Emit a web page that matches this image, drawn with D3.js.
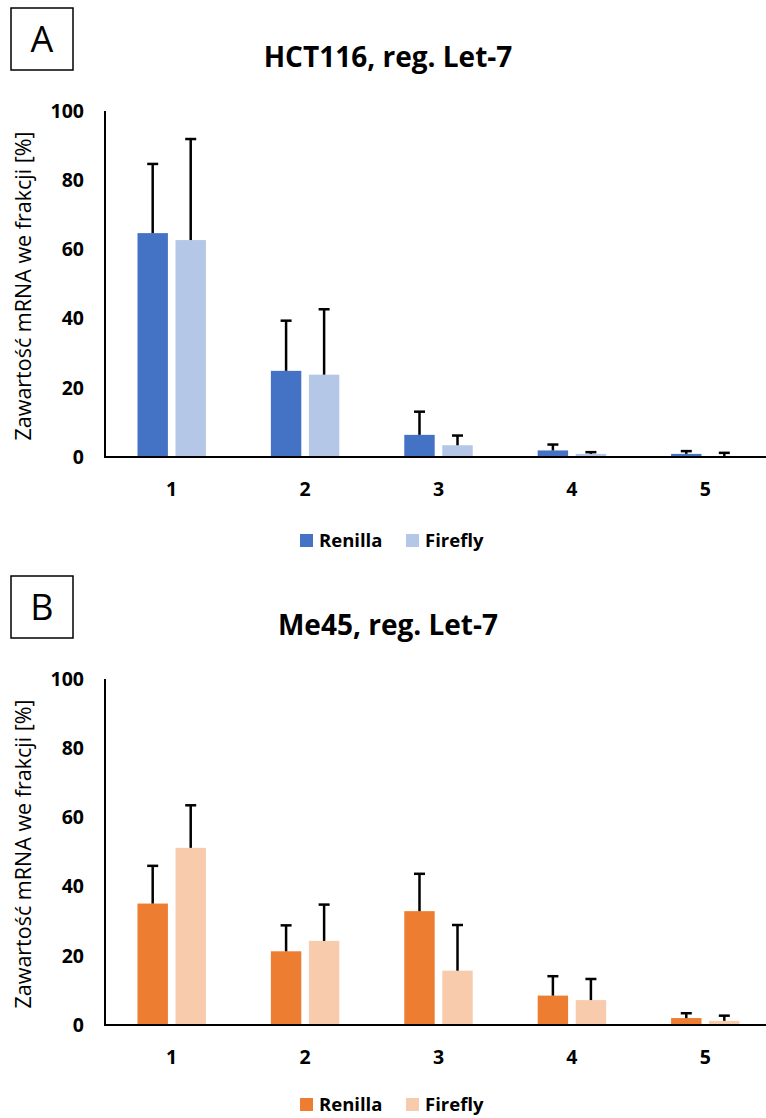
<!DOCTYPE html>
<html>
<head>
<meta charset="utf-8">
<script src="https://cdn.jsdelivr.net/npm/d3@7"></script>
<style>
  html, body { margin: 0; padding: 0; background: #fff; }
  svg { display: block; }
  text { font-family: "Open Sans", "Noto Sans", sans-serif; fill: #000; }
</style>
</head>
<body>
<svg id="chart" width="766" height="1118"></svg>
<script>
// Fractions 1-5, mean mRNA content [%] and standard deviation (upper error bar)
const categories = ["1", "2", "3", "4", "5"];
const seriesNames = ["Renilla", "Firefly"];
const yTicks = [0, 20, 40, 60, 80, 100];

const hctRenilla    = [64.7, 24.9, 6.4, 1.9, 0.9];
const hctRenillaErr = [20.0, 14.5, 6.7, 1.7, 0.8];
const hctFirefly    = [62.7, 23.8, 3.4, 0.9, 0.3];
const hctFireflyErr = [29.2, 18.9, 2.8, 0.5, 0.9];

const meRenilla     = [35.1, 21.3, 32.9, 8.5, 2.0];
const meRenillaErr  = [10.9, 7.5, 10.8, 5.6, 1.4];
const meFirefly     = [51.2, 24.3, 15.7, 7.2, 1.2];
const meFireflyErr  = [12.3, 10.5, 13.2, 6.1, 1.5];

const panels = [
  { letter: "A", title: "HCT116, reg. Let-7", top: 0, legendY: 547,
    values: [hctRenilla, hctFirefly], errors: [hctRenillaErr, hctFireflyErr],
    colors: ["#4472C4", "#B4C7E7"] },
  { letter: "B", title: "Me45, reg. Let-7", top: 568, legendY: 543,
    values: [meRenilla, meFirefly], errors: [meRenillaErr, meFireflyErr],
    colors: ["#ED7D31", "#F8CBAD"] }
];

const svg = d3.select("#chart");

const plotLeft = 105, plotRight = 772;
const x0 = d3.scaleBand().domain(categories).range([plotLeft, plotRight])
  .paddingInner(0.487).paddingOuter(0.2435);
const x1 = d3.scaleBand().domain(seriesNames).range([0, x0.bandwidth()]).paddingInner(0.2);

panels.forEach(p => {
  const g = svg.append("g").attr("transform", `translate(0,${p.top})`);
  const y = d3.scaleLinear().domain([0, 100]).range([457, 111]);

  // panel letter box
  g.append("rect").attr("x", 11).attr("y", 8).attr("width", 62).attr("height", 62)
    .attr("fill", "none").attr("stroke", "#000").attr("stroke-width", 1.5);
  g.append("text").attr("x", 42).attr("y", 52).attr("text-anchor", "middle")
    .attr("font-size", 36).text(p.letter);

  // title
  g.append("text").attr("x", 388).attr("y", 67).attr("text-anchor", "middle")
    .attr("font-size", 28).attr("font-weight", 700).text(p.title);

  // y axis labels
  const yAxis = d3.axisLeft(y).tickValues(yTicks).tickSize(0).tickPadding(21);
  const ya = g.append("g").attr("transform", `translate(${plotLeft},0)`).call(yAxis);
  ya.select(".domain").remove();
  ya.selectAll("text").attr("font-size", 19.5).attr("font-weight", 700)
    .attr("font-family", "'Open Sans', sans-serif").attr("fill", "#000");

  // y axis title
  g.append("text").attr("transform", `translate(31,${(111 + 457) / 2 + 2}) rotate(-90)`)
    .attr("text-anchor", "middle").attr("font-size", 21.5)
    .text("Zawartość mRNA we frakcji [%]");

  // bars
  const groups = g.selectAll(".grp").data(categories).join("g")
    .attr("transform", d => `translate(${x0(d)},0)`);
  seriesNames.forEach((s, si) => {
    groups.append("rect")
      .attr("x", x1(s)).attr("width", x1.bandwidth())
      .attr("y", (d, i) => y(p.values[si][i]))
      .attr("height", (d, i) => y(0) - y(p.values[si][i]))
      .attr("fill", p.colors[si]);
    // upper error bars
    groups.append("line")
      .attr("x1", x1(s) + x1.bandwidth() / 2).attr("x2", x1(s) + x1.bandwidth() / 2)
      .attr("y1", (d, i) => y(p.values[si][i]))
      .attr("y2", (d, i) => y(p.values[si][i] + p.errors[si][i]))
      .attr("stroke", "#000").attr("stroke-width", 2.5);
    groups.append("line")
      .attr("x1", x1(s) + x1.bandwidth() / 2 - 5.5).attr("x2", x1(s) + x1.bandwidth() / 2 + 5.5)
      .attr("y1", (d, i) => y(p.values[si][i] + p.errors[si][i]))
      .attr("y2", (d, i) => y(p.values[si][i] + p.errors[si][i]))
      .attr("stroke", "#000").attr("stroke-width", 2.5);
  });

  // axis lines
  g.append("line").attr("x1", plotLeft).attr("x2", plotLeft).attr("y1", y(100)).attr("y2", y(0) + 1)
    .attr("stroke", "#000").attr("stroke-width", 2);
  g.append("line").attr("x1", plotLeft - 1).attr("x2", plotRight).attr("y1", y(0)).attr("y2", y(0))
    .attr("stroke", "#000").attr("stroke-width", 2);

  // x labels
  const xAxis = d3.axisBottom(x0).tickSize(0).tickPadding(25);
  const xa = g.append("g").attr("transform", `translate(0,${y(0)})`).call(xAxis);
  xa.select(".domain").remove();
  xa.selectAll("text").attr("font-size", 19.5).attr("font-weight", 700)
    .attr("font-family", "'Open Sans', sans-serif").attr("fill", "#000");

  // legend
  const legendX = [300, 406];
  seriesNames.forEach((s, si) => {
    g.append("rect").attr("x", legendX[si]).attr("y", p.legendY - 13).attr("width", 13).attr("height", 13)
      .attr("fill", p.colors[si]);
    g.append("text").attr("x", legendX[si] + 19).attr("y", p.legendY)
      .attr("font-size", 18.5).attr("font-weight", 700).text(s);
  });
});
</script>
</body>
</html>
